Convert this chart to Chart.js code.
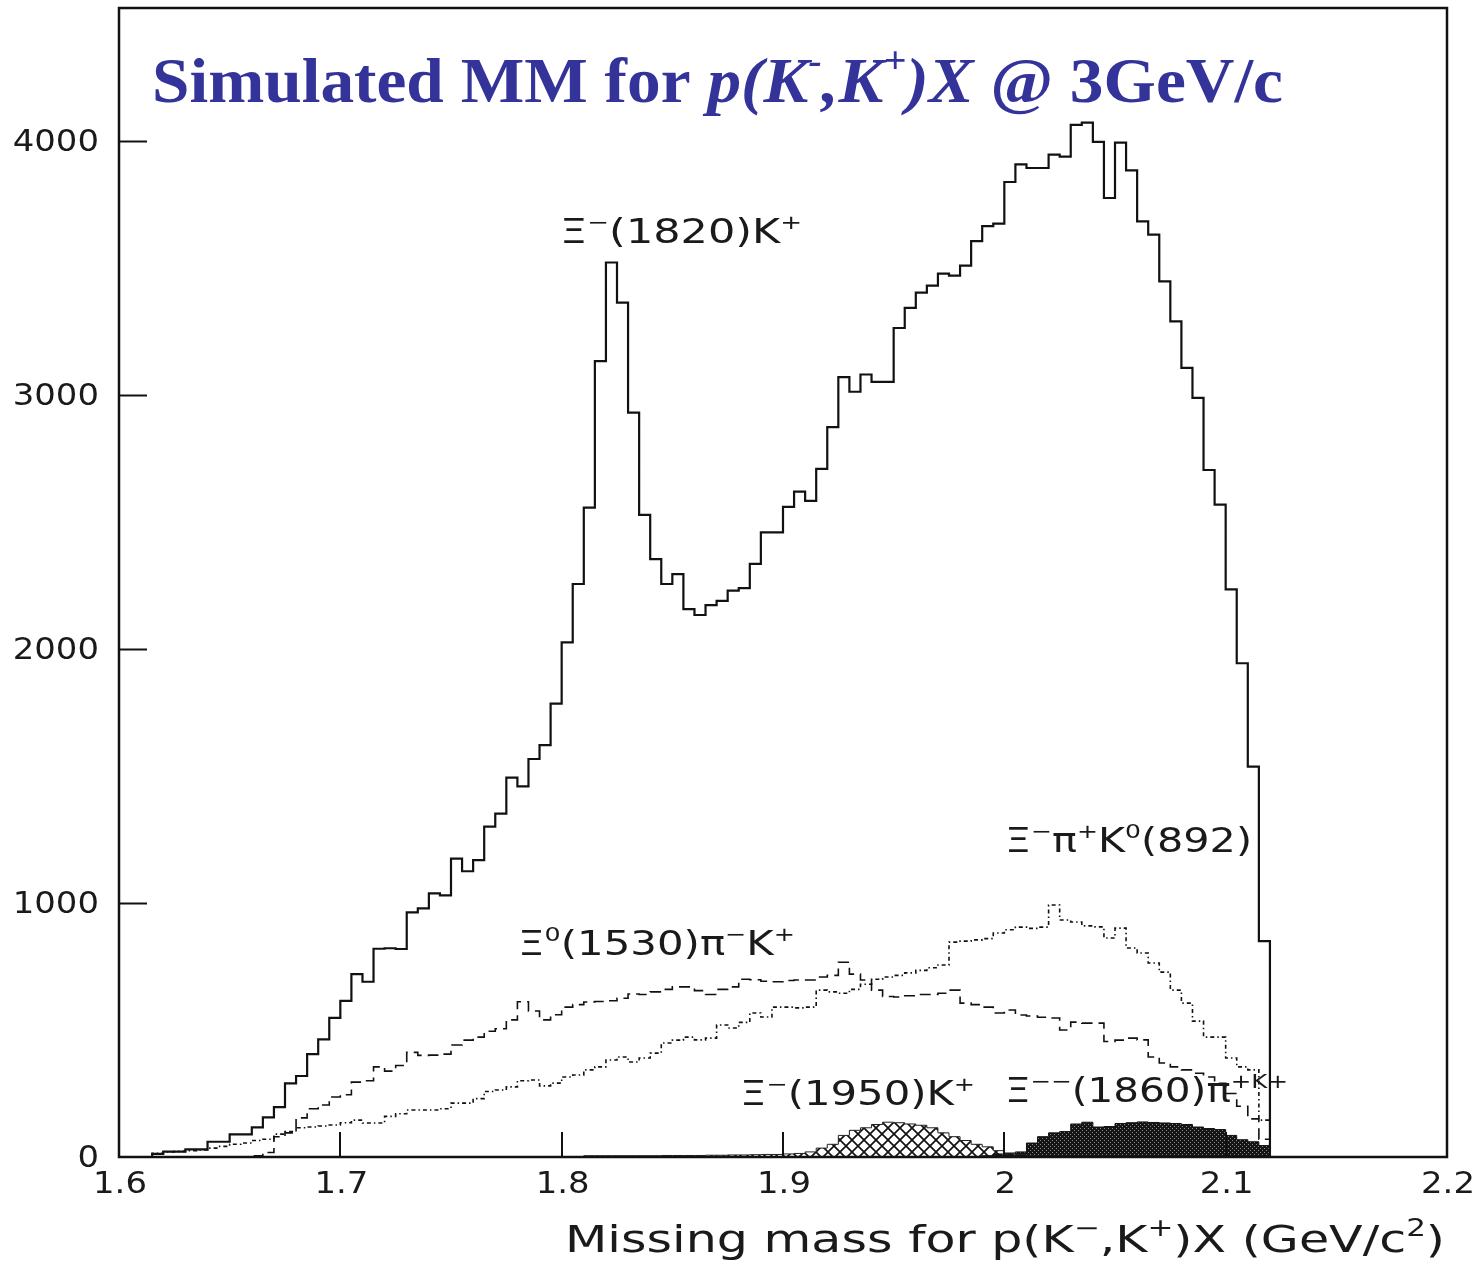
<!DOCTYPE html>
<html><head><meta charset="utf-8">
<script src="https://cdn.jsdelivr.net/npm/chart.js@4.4.0/dist/chart.umd.min.js"></script>
<style>html,body{margin:0;padding:0;background:#fff;overflow:hidden}#wrap{width:1484px;height:1265px}</style>
</head><body><div id="wrap"><canvas id="c" width="1484" height="1265"></canvas></div>
<script>
// ---- data (bins of 0.005 GeV/c^2 starting at 1.600) ----
const binStart = 1.6;
const binWidth = 0.005;

const totalCounts = [
  0,0,0,12,21,21,30,30,60,60,
  89,89,117,156,196,290,319,405,463,548,
  615,720,690,820,822,819,963,979,1038,1030,
  1175,1125,1169,1301,1352,1494,1459,1567,1622,1785,
  2026,2256,2557,3134,3522,3364,2931,2528,2354,2256,
  2295,2157,2134,2173,2190,2230,2240,2335,2459,2459,
  2560,2620,2583,2709,2874,3071,3013,3081,3052,3052,
  3264,3343,3403,3431,3478,3470,3510,3606,3665,3675,
  3839,3908,3894,3894,3947,3939,4064,4073,3997,3776,
  3994,3885,3684,3632,3448,3290,3107,2989,2705,2569,
  2235,1944,1537,850
];

const xi1530Counts = [
  0,0,0,0,0,0,0,0,0,0,
  0,0,5,18,80,95,154,190,205,236,
  245,295,300,355,338,360,412,400,401,405,
  441,460,472,495,505,540,611,575,540,560,
  590,600,610,612,615,625,642,640,650,660,
  670,670,655,640,660,670,700,698,692,690,
  695,697,697,709,715,767,720,697,657,632,
  630,635,640,640,645,657,606,600,590,567,
  579,559,555,550,547,500,531,527,527,455,
  460,468,461,394,370,355,343,330,315,290,
  250,200,150,70
];

const k892Counts = [
  0,0,0,15,20,22,25,28,35,42,
  50,55,65,70,90,100,115,118,122,126,
  135,145,134,134,160,170,185,185,185,190,
  212,212,230,258,264,276,300,303,280,291,
  315,323,343,355,382,394,374,390,409,449,
  460,472,461,468,520,508,530,567,551,590,
  590,587,590,657,650,645,660,680,700,709,
  715,725,735,745,756,846,850,855,860,882,
  895,905,900,905,992,933,925,910,906,862,
  901,823,803,764,728,657,606,535,472,472,
  390,355,343,145
];

const xi1950Counts = [
  0,0,0,0,0,0,0,0,0,0,
  0,0,0,0,0,0,0,0,0,0,
  0,0,0,0,0,0,0,0,0,0,
  0,0,0,0,0,0,0,0,0,0,
  0,0,5,5,5,5,5,5,5,6,
  6,6,6,7,7,8,8,9,10,10,
  12,14,20,35,50,85,105,115,128,137,
  135,130,125,115,95,80,65,50,40,25,
  15,10,5,0,0,0,0,0,0,0,
  0,0,0,0,0,0,0,0,0,0,
  0,0,0,0
];

const xi1860Counts = [
  0,0,0,0,0,0,0,0,0,0,
  0,0,0,0,0,0,0,0,0,0,
  0,0,0,0,0,0,0,0,0,0,
  0,0,0,0,0,0,0,0,0,0,
  0,0,0,0,0,0,0,0,0,0,
  0,0,0,0,0,0,0,0,0,0,
  0,0,0,0,0,0,0,0,0,0,
  0,0,0,0,0,0,0,0,5,12,
  15,20,55,80,95,100,130,137,118,120,
  132,135,138,136,134,132,128,118,112,108,
  85,68,60,45
];

const xTickValues = [1.6,1.7,1.8,1.9,2.0,2.1,2.2];
const xTickLabels = ['1.6','1.7','1.8','1.9','2','2.1','2.2'];
const yTickValues = [0,1000,2000,3000,4000];
const yTickLabels = ['0','1000','2000','3000','4000'];

const titleText = 'Simulated MM for ';
const xAxisTitle = 'Missing mass for p(K^{−},K^{+})X (GeV/c^{2})';
const annotations = [
  {text:'Ξ^{−}(1820)K^{+}', x:1.7993, y:3598, w:242},
  {text:'Ξ^{−}π^{+}K^{0}(892)', x:2.0003, y:1201, w:247},
  {text:'Ξ^{0}(1530)π^{−}K^{+}', x:1.7803, y:795, w:277},
  {text:'Ξ^{−}(1950)K^{+}', x:1.8806, y:205, w:235},
  {text:'Ξ^{−−}(1860)π^{+K+}', x:2.0003, y:217, w:283}
];

// ---- helpers ----
// histogram outline: point at each bin's lower edge; 'before' stepping holds that value to the next edge
function stepPoints(counts){
  const pts=[{x:binStart,y:0}];
  counts.forEach((v,i)=>pts.push({x:binStart+i*binWidth,y:v}));
  pts.push({x:binStart+counts.length*binWidth,y:0});
  return pts;
}
function parseRich(str){
  const segs=[]; const re=/\^\{([^}]*)\}/g; let last=0,m;
  while((m=re.exec(str))){ if(m.index>last) segs.push({t:str.slice(last,m.index)}); segs.push({t:m[1],sup:true}); last=re.lastIndex; }
  if(last<str.length) segs.push({t:str.slice(last)});
  return segs;
}
function drawRich(ctx, segs, x, y, size, family, weight, color, targetW, align, supScale, supRise){
  supScale=supScale||0.62; supRise=supRise||0.42;
  const fontFor=s=>`${s.italic?'italic ':''}${weight} ${Math.round(size*(s.sup?supScale:1))}px ${family}`;
  let total=0;
  segs.forEach(s=>{ctx.font=fontFor(s); s.w=ctx.measureText(s.t).width; total+=s.w;});
  const sx = targetW ? targetW/total : 1;
  ctx.save(); ctx.fillStyle=color; ctx.textBaseline='alphabetic'; ctx.textAlign='left';
  const startX = align==='right' ? x-total*sx : (align==='center'? x-total*sx/2 : x);
  ctx.translate(startX,y); ctx.scale(sx,1);
  let cx=0;
  segs.forEach(s=>{ctx.font=fontFor(s); ctx.fillText(s.t,cx,s.sup?-size*supRise:0); cx+=s.w;});
  ctx.restore();
}

const cv=document.getElementById('c');
const ctx0=cv.getContext('2d');
function hatchPattern(){
  const c=document.createElement('canvas'); c.width=c.height=12;
  const g=c.getContext('2d'); g.strokeStyle='#111'; g.lineWidth=1.7;
  g.beginPath(); g.moveTo(0,0); g.lineTo(12,12); g.moveTo(12,0); g.lineTo(0,12); g.stroke();
  return ctx0.createPattern(c,'repeat');
}
function darkPattern(){
  const c=document.createElement('canvas'); c.width=c.height=4;
  const g=c.getContext('2d'); g.fillStyle='#151515'; g.fillRect(0,0,4,4);
  g.fillStyle='#8a8a8a'; g.fillRect(0,0,1,1); g.fillRect(2,2,1,1);
  return ctx0.createPattern(c,'repeat');
}

const SANS='"DejaVu Sans", "Liberation Sans", sans-serif';
const decor={
  id:'decor',
  afterDatasetsDraw(chart){
    const {ctx, chartArea:a, scales:{x,y}}=chart;
    ctx.save();
    ctx.strokeStyle='#111'; ctx.lineWidth=2.5;
    ctx.strokeRect(a.left,a.top,a.right-a.left,a.bottom-a.top);
    ctx.lineWidth=2;
    yTickValues.forEach(v=>{ if(v===0) return; const py=Math.round(y.getPixelForValue(v))+0.5;
      ctx.beginPath(); ctx.moveTo(a.left,py); ctx.lineTo(a.left+28,py); ctx.stroke(); });
    xTickValues.forEach(v=>{ const px=Math.round(x.getPixelForValue(v));
      if(px<=a.left+2||px>=a.right-2) return;
      ctx.beginPath(); ctx.moveTo(px,a.bottom); ctx.lineTo(px,a.bottom-25); ctx.stroke(); });
    // tick labels
    ctx.fillStyle='#1a1a1a'; ctx.textBaseline='middle';
    yTickValues.forEach((v,i)=>{ const py=y.getPixelForValue(v)+2;
      ctx.save(); ctx.font=`30px ${SANS}`;
      ctx.translate(99,py); ctx.scale(1.13,1); ctx.textAlign='right'; ctx.fillText(yTickLabels[i],0,0); ctx.restore(); });
    xTickValues.forEach((v,i)=>{ const px=x.getPixelForValue(v);
      ctx.save(); ctx.font=`30px ${SANS}`; ctx.translate(px+1,1185); ctx.scale(1.13,1); ctx.textAlign='center'; ctx.fillText(xTickLabels[i],0,0); ctx.restore(); });
    // axis title
    drawRich(ctx, parseRich(xAxisTitle), 1445, 1252, 38, SANS, 'normal', '#1a1a1a', 880, 'right');
    // annotations
    annotations.forEach(an=>{
      drawRich(ctx, parseRich(an.text), x.getPixelForValue(an.x), y.getPixelForValue(an.y), 33, SANS, 'normal', '#1a1a1a', an.w, 'left');
    });
    // title
    const tsegs=[{t:titleText},{t:'p(K',italic:true},{t:'-',italic:true,sup:true},{t:',K',italic:true},{t:'+',italic:true,sup:true},{t:')X',italic:true},{t:' @ 3GeV/c'}];
    drawRich(ctx, tsegs, 152, 102, 64, '"Liberation Serif", "DejaVu Serif", serif', 'bold', '#333399', 1131, 'left', 0.6, 0.45);
    ctx.restore();
  }
};

new Chart(cv,{
  type:'line',
  data:{datasets:[
    {label:'total', data:stepPoints(totalCounts), stepped:'before', borderColor:'#111', borderWidth:2.2, pointRadius:0, fill:false},
    {label:'Xi0(1530) pi- K+', data:stepPoints(xi1530Counts), stepped:'before', borderColor:'#111', borderWidth:1.6, borderDash:[11,6], pointRadius:0, fill:false},
    {label:'Xi- pi+ K0(892)', data:stepPoints(k892Counts), stepped:'before', borderColor:'#111', borderWidth:1.6, borderDash:[4,3,1.5,3], pointRadius:0, fill:false},
    {label:'Xi-(1950) K+', data:stepPoints(xi1950Counts), stepped:'before', borderColor:'#222', borderWidth:1, pointRadius:0, fill:'origin', backgroundColor:hatchPattern()},
    {label:'Xi--(1860) pi+ K+', data:stepPoints(xi1860Counts), stepped:'before', borderColor:'#111', borderWidth:1, pointRadius:0, fill:'origin', backgroundColor:darkPattern()}
  ]},
  options:{
    responsive:false, animation:false, events:[],
    layout:{padding:{left:119,right:37,top:8,bottom:108}},
    plugins:{legend:{display:false},tooltip:{enabled:false},title:{display:false}},
    scales:{
      x:{type:'linear',min:1.6,max:2.2,display:false},
      y:{type:'linear',min:0,max:4524,display:false}
    },
    elements:{point:{radius:0},line:{tension:0}}
  },
  plugins:[decor]
});
</script></body></html>
